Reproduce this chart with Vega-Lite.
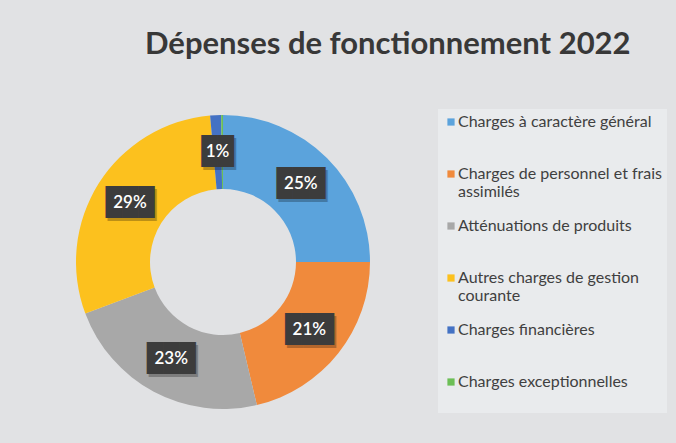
{
  "$schema": "https://vega.github.io/schema/vega-lite/v6.json",
  "width": 294,
  "height": 294,
  "autosize": {"type": "none"},
  "padding": {"left": 76, "top": 115, "right": 306, "bottom": 34},
  "background": "#e1e2e4",
  "config": {"view": {"stroke": null}, "font": "Lato"},
  "title": {
    "text": "Dépenses de fonctionnement 2022",
    "anchor": "start",
    "frame": "group",
    "dx": 69,
    "baseline": "alphabetic",
    "offset": 24,
    "fontSize": 31,
    "font": "Lato",
    "fontWeight": "bold",
    "color": "#383838"
  },
  "data": {
    "values": [
      {"cat": "Charges à caractère général", "value": 25.0, "label": "25%", "ord": 1},
      {"cat": "Charges de personnel et frais assimilés", "value": 21.3, "label": "21%", "ord": 2},
      {"cat": "Atténuations de produits", "value": 23.0, "label": "23%", "ord": 3},
      {"cat": "Autres charges de gestion courante", "value": 29.3, "label": "29%", "ord": 4},
      {"cat": "Charges financières", "value": 1.2, "label": "1%", "ord": 5},
      {"cat": "Charges exceptionnelles", "value": 0.2, "label": "", "ord": 6}
    ]
  },
  "encoding": {
    "theta": {"field": "value", "type": "quantitative", "stack": true},
    "order": {"field": "ord", "type": "quantitative"}
  },
  "layer": [
    {
      "mark": {"type": "arc", "innerRadius": 73, "outerRadius": 147},
      "encoding": {
        "color": {
          "field": "cat",
          "type": "nominal",
          "sort": null,
          "scale": {
            "domain": [
              "Charges à caractère général",
              "Charges de personnel et frais assimilés",
              "Atténuations de produits",
              "Autres charges de gestion courante",
              "Charges financières",
              "Charges exceptionnelles"
            ],
            "range": ["#5ba3dc", "#f08a3c", "#a8a8a8", "#fcc11e", "#4472c4", "#6cbf56"]
          },
          "legend": {
            "title": null,
            "orient": "none",
            "legendX": 362,
            "legendY": -6,
            "direction": "vertical",
            "symbolType": "square",
            "symbolSize": 52,
            "symbolStrokeWidth": 0,
            "labelFont": "Lato",
            "labelFontSize": 16,
            "labelColor": "#404040",
            "labelOffset": -1,
            "labelLimit": 300,
            "labelBaseline": "middle",
            "rowPadding": 18,
            "padding": 5,
            "fillColor": "#e9ebed",
            "labelExpr": "datum.label == 'Charges de personnel et frais assimilés' ? ['Charges de personnel et frais', 'assimilés'] : datum.label == 'Autres charges de gestion courante' ? ['Autres charges de gestion', 'courante'] : [datum.label, '']"
          }
        }
      }
    },
    {
      "mark": {"type": "text", "radius": 110, "font": "DejaVu Sans Mono", "fontSize": 27, "baseline": "middle", "dx": 2, "dy": 3, "color": "#000000", "opacity": 0.25},
      "encoding": {
        "text": {"condition": [{"test": "datum.label == ''", "value": ""}, {"test": "length(datum.label) < 3", "value": "██"}], "value": "███"}
      }
    },
    {
      "mark": {"type": "text", "radius": 110, "font": "DejaVu Sans Mono", "fontSize": 27, "baseline": "middle", "color": "#3c3c3c"},
      "encoding": {
        "text": {"condition": [{"test": "datum.label == ''", "value": ""}, {"test": "length(datum.label) < 3", "value": "██"}], "value": "███"}
      }
    },
    {
      "mark": {"type": "text", "radius": 110, "font": "Lato", "fontSize": 17, "fontWeight": 600, "baseline": "middle", "color": "#ffffff"},
      "encoding": {
        "text": {"field": "label", "type": "nominal"}
      }
    }
  ]
}
